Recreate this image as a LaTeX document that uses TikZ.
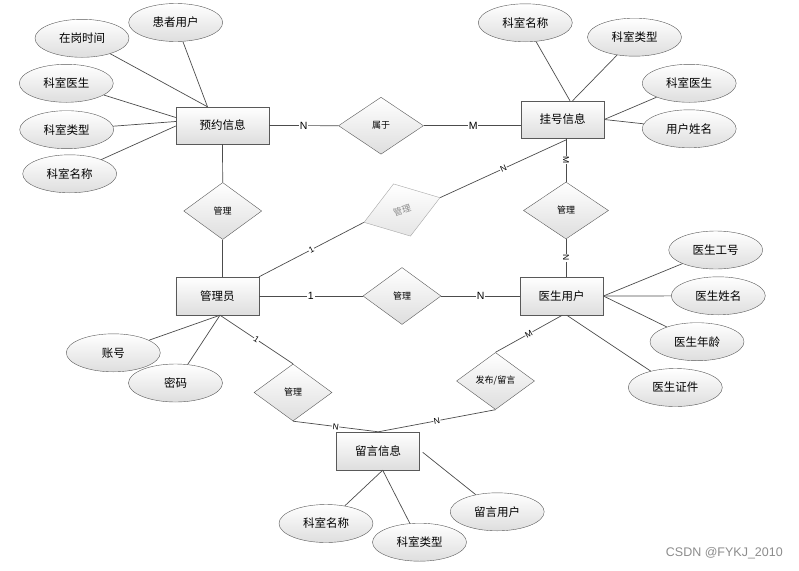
\documentclass[tikz,border=0pt]{standalone}
\usepackage{fontspec}
\setmainfont{Noto Sans CJK SC}
\newfontfamily\labfont{Liberation Sans}
\usetikzlibrary{shapes.geometric,calc}
\tikzset{
  ent/.style={draw=black!65, top color=white, bottom color=black!13, minimum width=83pt, minimum height=38pt, inner sep=0pt, font=\fontsize{11.5}{13}\selectfont},
  attr/.style={ellipse, draw=black!65, top color=white, bottom color=black!13, minimum width=94pt, minimum height=38pt, inner sep=0pt, font=\fontsize{11.5}{13}\selectfont},
  rel/.style={diamond, draw=black!65, top color=white, bottom color=black!13, minimum width=78pt, minimum height=57pt, inner sep=0pt, font=\fontsize{9}{10}\selectfont},
  conn/.style={draw=black!70, line width=0.7pt},
  lbl/.style={fill=white, inner sep=0.8pt, font=\labfont\fontsize{10.5}{11}\selectfont},
  slbl/.style={fill=white, inner sep=0.5pt, font=\labfont\fontsize{8.5}{9}\selectfont}
}
\begin{document}
\begin{tikzpicture}[x=1pt,y=-1pt]
\useasboundingbox (0,0) rectangle (799,570);
% entities
\node[ent, minimum width=93pt, minimum height=37pt] (yy) at (222.5,125.5) {预约信息};
\node[ent, minimum height=37pt] (gh) at (562.5,119.5) {挂号信息};
\node[ent] (gly) at (217.3,296) {管理员};
\node[ent] (ys) at (561.7,296) {医生用户};
\node[ent] (ly) at (378,451) {留言信息};
% relations
\node[rel, minimum width=85pt] (sy) at (381,125.7) {属于};
\node[rel] (glA) at (222.7,211) {管理};
\node[rel, minimum width=85pt] (glR) at (566,210.5) {管理};
\node[rel] (glM) at (402,296) {管理};
\node[rel] (glB) at (293,392.5) {管理};
\node[rel] (fb) at (495.5,381) {发布/留言};
\node[diamond, draw=black!35, top color=white, bottom color=black!10, minimum width=80pt, minimum height=55pt, inner sep=0pt, rotate=18, text=black!45, font=\fontsize{9}{10}\selectfont] (glG) at (402,210) {管理};
% attributes of 预约信息
\node[attr] (hz) at (175.7,22.5) {患者用户};
\node[attr] (zg) at (82,38.3) {在岗时间};
\node[attr] (ys1) at (66.3,83.3) {科室医生};
\node[attr] (lx1) at (66.7,129.7) {科室类型};
\node[attr] (mc1) at (69.7,173.8) {科室名称};
\draw[conn] (hz) -- ($(yy.north)+(-15,0)$);
\draw[conn] (zg) -- ($(yy.north)+(-15,0)$);
\draw[conn] (ys1) -- ($(yy.west)+(0,-8)$);
\draw[conn] (lx1) -- ($(yy.west)+(0,-4)$);
\draw[conn] (mc1) -- ($(yy.west)+(0,0.5)$);
% attributes of 挂号信息
\node[attr] (mc2) at (525.3,22.8) {科室名称};
\node[attr] (lx2) at (634.5,37.2) {科室类型};
\node[attr] (ys2) at (689.2,83.3) {科室医生};
\node[attr] (yh) at (689.2,128.8) {用户姓名};
\draw[conn] (mc2) -- ($(gh.north)+(7.5,0)$);
\draw[conn] (lx2) -- ($(gh.north)+(10,0)$);
\draw[conn] (ys2) -- (gh.east);
\draw[conn] (yh) -- (gh.east);
% attributes of 医生用户
\node[attr] (gh1) at (715.7,250) {医生工号};
\node[attr] (xm) at (718.3,295.8) {医生姓名};
\node[attr] (nl) at (697,341.7) {医生年龄};
\node[attr] (zj) at (675.3,387.5) {医生证件};
\draw[conn] (gh1) -- (ys.east);
\draw[conn] (xm) -- (ys.east);
\draw[conn] (nl) -- (ys.east);
\draw[conn] (zj) -- ($(ys.south)+(5,0)$);
% attributes of 管理员
\node[attr] (zh) at (113.3,352.8) {账号};
\node[attr] (mm) at (175.5,383) {密码};
\draw[conn] (zh) -- ($(gly.south)+(2.7,0)$);
\draw[conn] (mm) -- ($(gly.south)+(2.7,0)$);
% attributes of 留言信息
\node[attr] (mc3) at (326,523.5) {科室名称};
\node[attr] (lx3) at (419.5,542.2) {科室类型};
\node[attr] (lyh) at (497.2,511.8) {留言用户};
\draw[conn] (mc3) -- ($(ly.south)+(4.7,0)$);
\draw[conn] (lx3) -- ($(ly.south)+(4.7,0)$);
\draw[conn] (lyh) -- ($(ly.east)+(3,1.3)$);
% relationship connectors
\draw[conn] (yy.east) -- node[lbl]{N} (sy.west);
\draw[conn] (sy.east) -- node[lbl, pos=0.51]{M} (sy.east -| gh.west);
\draw[conn] (yy.south) -- (glA.north);
\draw[conn] (glA.south) -- (gly.north -| glA.south);
\draw[conn] (glR.north |- gh.south) -- node[slbl, rotate=-90]{M} (glR.north);
\draw[conn] (glR.south) -- node[slbl, rotate=-90]{N} (glR.south |- ys.north);
\draw[conn] (gly.north east) -- node[slbl, sloped]{1} (glG.west);
\draw[conn] (glG.east) -- node[slbl, sloped]{N} ($(gh.south)+(4,1.5)$);
\draw[conn] (gly.east) -- node[lbl]{1} (glM.west);
\draw[conn] (glM.east) -- node[lbl]{N} (ys.west);
\draw[conn] ($(gly.south)+(2.7,0)$) -- node[slbl, sloped]{1} (glB.north);
\draw[conn] (glB.south) -- node[slbl, sloped]{N} ($(ly.north)+(0.3,0)$);
\draw[conn] (fb.south) -- node[slbl, sloped]{N} ($(ly.north)+(0.3,0)$);
\draw[conn] ($(ys.south)+(0.6,0)$) -- node[slbl, sloped]{M} (fb.north);
% watermark
\node[font=\labfont\fontsize{12.5}{13}\selectfont, text=black!45, anchor=east, inner sep=0pt] (wm) at (783,553) {CSDN @FYKJ\_2010};
\end{tikzpicture}
\end{document}
